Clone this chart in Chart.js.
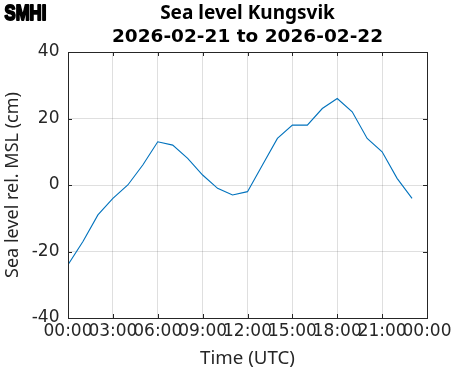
<!DOCTYPE html>
<html lang="en">
<head>
    <meta charset="UTF-8">
    <title>Sea level Kungsvik</title>
    <script src="https://cdn.jsdelivr.net/npm/chart.js"></script>
    <style>
        body { margin: 0; background: #fff; }
        canvas { display: block; }
    </style>
</head>
<body>
    <canvas id="seaLevelChart" width="471" height="371"></canvas>
    <script>
        // hourly observations, 2026-02-21 (UTC)
        const hours = [0, 1, 2, 3, 4, 5, 6, 7, 8, 9, 10, 11, 12, 13, 14, 15, 16, 17, 18, 19, 20, 21, 22, 23];
        const seaLevel = [-24, -17, -9, -4, 0, 6, 13, 12, 8, 3, -1, -3, -2, 6, 14, 18, 18, 23, 26, 22, 14, 10, 2, -4];
        const xTickLabels = ['00:00', '03:00', '06:00', '09:00', '12:00', '15:00', '18:00', '21:00', '00:00'];
        const yTicks = [-40, -20, 0, 20, 40];

        const titleText = 'Sea level Kungsvik';
        const subtitleText = '2026-02-21 to 2026-02-22';
        const axisColor = '#262626';

        // MATLAB style box: frame on all sides with inward ticks
        const boxPlugin = {
            id: 'boxPlugin',
            afterDatasetsDraw(chart) {
                const { ctx, chartArea: a, scales } = chart;
                const len = 4;
                ctx.save();
                ctx.strokeStyle = axisColor;
                ctx.lineWidth = 1;
                ctx.beginPath();
                scales.x.ticks.forEach(t => {
                    const px = Math.round(scales.x.getPixelForValue(t.value)) + 0.5;
                    ctx.moveTo(px, a.bottom); ctx.lineTo(px, a.bottom - len);
                    ctx.moveTo(px, a.top); ctx.lineTo(px, a.top + len);
                });
                scales.y.ticks.forEach(t => {
                    const py = Math.round(scales.y.getPixelForValue(t.value)) + 0.5;
                    ctx.moveTo(a.left, py); ctx.lineTo(a.left + len, py);
                    ctx.moveTo(a.right, py); ctx.lineTo(a.right - len, py);
                });
                ctx.stroke();
                ctx.strokeRect(Math.round(a.left) + 0.5, Math.round(a.top) + 0.5,
                    Math.round(a.right - a.left), Math.round(a.bottom - a.top));
                ctx.restore();
            },
            afterDraw(chart) {
                // SMHI logo text
                const ctx = chart.ctx;
                ctx.save();
                ctx.translate(4.5, 20);
                ctx.scale(0.76, 1);
                ctx.font = 'bold 22px "Liberation Sans"';
                ctx.fillStyle = '#000';
                ctx.strokeStyle = '#000';
                ctx.lineWidth = 2;
                ctx.lineJoin = 'round';
                ctx.textBaseline = 'alphabetic';
                ctx.strokeText('SMHI', 0, 0);
                ctx.fillText('SMHI', 0, 0);
                ctx.restore();
            }
        };

        const ctx = document.getElementById('seaLevelChart').getContext('2d');
        const seaLevelChart = new Chart(ctx, {
            type: 'line',
            data: {
                datasets: [{
                    label: 'Sea level',
                    data: hours.map((h, i) => ({ x: h, y: seaLevel[i] })),
                    borderColor: '#0072BD',
                    borderWidth: 1.1,
                    pointRadius: 0,
                    tension: 0,
                    fill: false
                }]
            },
            options: {
                responsive: false,
                animation: false,
                layout: { padding: { left: 0, right: 44, top: 0, bottom: 0 } },
                plugins: {
                    legend: { display: false },
                    tooltip: { enabled: false },
                    title: {
                        display: true,
                        text: titleText,
                        fullSize: false,
                        color: '#000',
                        font: { family: '"Noto Sans"', size: 19, weight: 'bold', lineHeight: 1.2 },
                        padding: { top: 2.6, bottom: 0 }
                    },
                    subtitle: {
                        display: true,
                        text: subtitleText,
                        fullSize: false,
                        color: '#000',
                        font: { family: '"DejaVu Sans"', size: 18.5, weight: 'bold', lineHeight: 1.2 },
                        padding: { top: 0.2, bottom: 4.2 }
                    }
                },
                scales: {
                    x: {
                        type: 'linear',
                        min: 0,
                        max: 24,
                        afterFit(scale) { scale.height = 53; },
                        afterBuildTicks(scale) {
                            scale.ticks = xTickLabels.map((l, i) => ({ value: i * 3 }));
                        },
                        grid: { color: 'rgba(38,38,38,0.15)', drawTicks: false },
                        border: { display: false },
                        ticks: {
                            autoSkip: false,
                            maxRotation: 0,
                            minRotation: 0,
                            padding: 3,
                            color: axisColor,
                            font: { family: '"DejaVu Sans"', size: 17 },
                            callback: (v) => xTickLabels[v / 3]
                        },
                        title: {
                            display: true,
                            text: 'Time (UTC)',
                            color: axisColor,
                            font: { family: '"Noto Sans"', size: 18.7 },
                            padding: { top: 0, bottom: 1 }
                        }
                    },
                    y: {
                        min: -40,
                        max: 40,
                        afterFit(scale) { scale.width = 68; },
                        afterBuildTicks(scale) {
                            scale.ticks = yTicks.map(v => ({ value: v }));
                        },
                        grid: { color: 'rgba(38,38,38,0.15)', drawTicks: false },
                        border: { display: false },
                        ticks: {
                            padding: 8.5,
                            color: axisColor,
                            font: { family: '"DejaVu Sans"', size: 17 }
                        },
                        title: {
                            display: true,
                            text: 'Sea level rel. MSL (cm)',
                            color: axisColor,
                            font: { family: '"Noto Sans"', size: 18 },
                            padding: { top: 2, bottom: 0 }
                        }
                    }
                }
            },
            plugins: [boxPlugin]
        });
    </script>
</body>
</html>
